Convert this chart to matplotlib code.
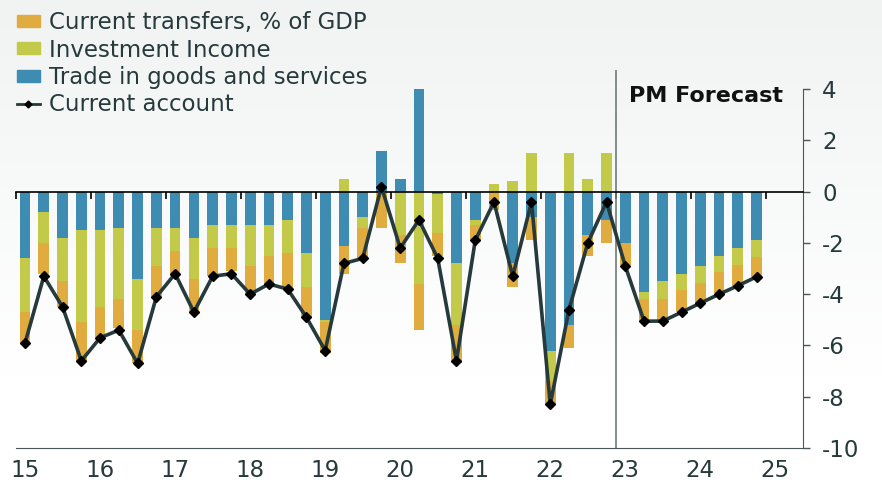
import numpy as np
import matplotlib
matplotlib.use("Agg")
from matplotlib import pyplot as plt
from matplotlib.patches import Patch
from matplotlib.lines import Line2D

plt.rcParams['font.family'] = ['DejaVu Sans']
plt.rcParams['axes.unicode_minus'] = False

# quarterly data, 2015Q1 .. 2024Q4 (% of GDP)
trade = [-2.6, -0.8, -1.8, -1.5, -1.5, -1.4, -3.4, -1.4,
         -1.4, -1.8, -1.3, -1.3, -1.3, -1.3, -1.1, -2.4,
         -5.0, -2.1, -1.0, 1.6, 0.5, 4.0, -0.1, -2.8,
         -1.1, 0.0, -2.8, -1.0, -6.2, -5.2, -1.7, -1.1,
         -2.0, -3.9, -3.5, -3.2, -2.9, -2.5, -2.2, -1.9]
invest = [-2.1, -1.2, -1.7, -3.6, -3.0, -2.8, -2.0, -1.5,
          -0.9, -1.6, -0.9, -0.9, -1.6, -1.2, -1.3, -1.3,
          -0.1, 0.5, -0.4, 0.0, -1.7, -3.6, -1.5, -2.4,
          -0.2, 0.3, 0.4, 1.5, -1.2, 1.5, 0.5, 1.5,
          0.0, -0.3, -0.7, -0.65, -0.65, -0.65, -0.65, -0.65]
transfers = [-1.2, -1.2, -1.0, -1.5, -1.2, -1.1, -1.3, -1.2,
             -1.0, -1.3, -1.1, -0.9, -1.1, -1.1, -1.4, -1.2,
             -1.2, -1.1, -1.2, -1.4, -1.1, -1.8, -0.9, -1.5,
             -0.6, -0.7, -0.9, -0.9, -0.9, -0.9, -0.8, -0.9,
             -0.85, -0.85, -0.8, -0.83, -0.85, -0.8, -0.82, -0.8]
current = [-5.9, -3.3, -4.5, -6.6, -5.7, -5.4, -6.7, -4.1,
           -3.2, -4.7, -3.3, -3.2, -4.0, -3.6, -3.8, -4.9,
           -6.2, -2.8, -2.6, 0.2, -2.2, -1.1, -2.6, -6.6,
           -1.9, -0.4, -3.3, -0.4, -8.3, -4.6, -2.0, -0.4,
           -2.9, -5.05, -5.05, -4.7, -4.35, -4.0, -3.67, -3.32]
years = list(range(2015, 2026))
year_labels = ['15', '16', '17', '18', '19', '20', '21', '22', '23', '24', '25']
forecast_start = 2023

c_trans = '#e0ac40'
c_inv = '#c3ca4a'
c_trade = '#3e8cb2'
c_line = '#26393b'
c_text = '#263a3c'
fs = 16.5

fig = plt.figure(figsize=(8.82, 4.88), dpi=100)

# soft grey-to-white background
bg = fig.add_axes([0, 0, 1, 1], zorder=-10)
grad = np.linspace(0, 1, 256).reshape(-1, 1)
top = np.array([0.945, 0.953, 0.953])
img = top + (1 - top) * np.clip(grad * 1.3, 0, 1)[:, :, None]
bg.imshow(img, aspect='auto', extent=[0, 1, 0, 1], origin='upper')
bg.axis('off')

ax = fig.add_axes([0.0178, 0.082, 0.8923, 0.7746])
ax.set_facecolor('none')

n = len(trade)
x = 2015 + (np.arange(n) + 0.5) / 4
w = 0.143

pos = np.zeros(n)
neg = np.zeros(n)
for vals, col in [(trade, c_trade), (invest, c_inv), (transfers, c_trans)]:
    v = np.array(vals)
    bottom = np.where(v >= 0, pos, neg)
    ax.bar(x, v, width=w, bottom=bottom, color=col, zorder=2)
    pos = pos + np.where(v >= 0, v, 0)
    neg = neg + np.where(v < 0, v, 0)

ax.plot(x, current, color=c_line, lw=2.6, marker='D', ms=5.5, mfc='black',
        mec='black', zorder=5)

ax.axvline(forecast_start, color='#6e7a7b', lw=1.2, zorder=3)
ax.text(forecast_start + 0.17, 3.5, 'PM Forecast', fontsize=16,
        fontweight='semibold', color='#111111', va='baseline', ha='left')

ax.set_xlim(2015, 2025.49)
ax.set_ylim(-10, 4.75)

# zero line with year ticks
ax.spines['bottom'].set_position(('data', 0))
ax.spines['bottom'].set_color('black')
ax.spines['bottom'].set_linewidth(1.2)
ax.spines['bottom'].set_zorder(4)
ax.spines['top'].set_visible(False)
ax.spines['left'].set_visible(False)
ax.spines['right'].set_bounds(-10, 4)
ax.spines['right'].set_color('#4a5658')
ax.set_xticks(years)
ax.tick_params(axis='x', direction='out', length=5, width=1.2, color='black',
               labelbottom=False)

ax.yaxis.tick_right()
ax.set_yticks(range(-10, 5, 2))
ax.tick_params(axis='y', length=5, width=1, color='#4a5658', pad=9,
               labelsize=fs, labelcolor=c_text)

sec = ax.secondary_xaxis('bottom')
sec.set_xticks([y + 0.125 for y in years])
sec.set_xticklabels(year_labels)
sec.tick_params(length=0, pad=8, labelsize=fs, labelcolor=c_text)
sec.spines['bottom'].set_color('#4a5658')

handles = [Patch(color=c_trans), Patch(color=c_inv), Patch(color=c_trade),
           Line2D([], [], color=c_line, lw=2, marker='D', ms=3.5, mfc='black', mec='black')]
labels = ['Current transfers, % of GDP', 'Investment Income',
          'Trade in goods and services', 'Current account']
leg = fig.legend(handles, labels, loc='upper left', bbox_to_anchor=(0.0015, 1.01),
                 frameon=False, fontsize=fs, handlelength=0.97, handleheight=0.42,
                 handletextpad=0.42, labelspacing=0.19, borderpad=0.2)
for t in leg.get_texts():
    t.set_color(c_text)

fig.savefig('out.png', dpi=100)
